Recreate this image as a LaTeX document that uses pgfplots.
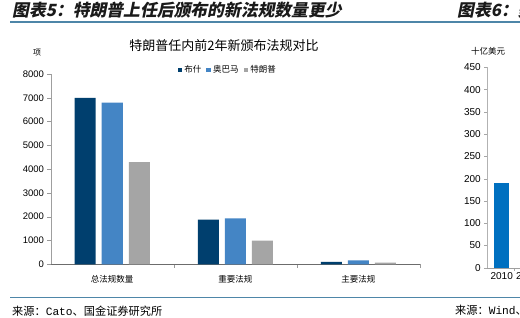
\documentclass[border=0pt]{standalone}
\usepackage{pgfplots}
\pgfplotsset{compat=1.18}
\usepackage{fontspec}
\setmainfont{Liberation Sans}
\newfontfamily\cjk{Noto Sans CJK SC}
\newfontfamily\cjkhead{Noto Sans CJK SC}[FakeSlant=0.2]
\newfontfamily\mono{Liberation Mono}
\definecolor{bush}{HTML}{003F6E}
\definecolor{obama}{HTML}{4485C5}
\definecolor{trump}{HTML}{A5A5A5}
\definecolor{hline}{HTML}{4E86A8}
\definecolor{rbar}{HTML}{0070C0}
\definecolor{headtxt}{HTML}{1A1A1A}
\pgfplotsset{sqlegend/.style={legend image code/.code={\fill[##1,draw=none] (0pt,-2.4pt) rectangle (4.8pt,2.4pt);}}}
\begin{document}
\begin{tikzpicture}
\useasboundingbox (0pt,0pt) rectangle (520pt,317pt);
\clip (0pt,0pt) rectangle (520pt,317pt);
\fill[white] (0pt,0pt) rectangle (520pt,317pt);
% headers
\node[anchor=west,inner sep=0pt,text=headtxt] at (12pt,307pt) {\cjkhead\bfseries\fontsize{16.8}{17}\selectfont 图表5：特朗普上任后颁布的新法规数量更少};
\node[anchor=west,inner sep=0pt,text=headtxt] at (457pt,307pt) {\cjkhead\bfseries\fontsize{16.8}{17}\selectfont 图表6：美};
\draw[hline,line width=2.4pt] (10pt,295.3pt) -- (520pt,295.3pt);
\draw[hline,line width=1pt] (10pt,19.3pt) -- (520pt,19.3pt);
\node[anchor=west,inner sep=0pt] at (12pt,6pt) {\cjk\fontsize{11.2}{12}\selectfont 来源：{\mono Cato}、国金证券研究所};
\node[anchor=west,inner sep=0pt] at (455pt,6.5pt) {\cjk\fontsize{11.2}{12}\selectfont 来源：{\mono Wind}、};
% left chart
\node[inner sep=0pt] at (224pt,271pt) {\cjk\fontsize{13}{14}\selectfont 特朗普任内前2年新颁布法规对比};
\node[inner sep=0pt] at (37pt,264pt) {\cjk\fontsize{8}{9}\selectfont 项};
\begin{axis}[
  at={(50.7pt,52.7pt)}, anchor=south west, scale only axis,
  width=369.3pt, height=190.3pt,
  xmin=-0.5, xmax=2.5, ymin=0, ymax=8000,
  ybar=6pt, bar width=21pt,
  axis x line*=bottom, axis y line*=left,
  x axis line style={draw=gray!85!black,-},
  y axis line style={draw=gray!75,-},
  tick align=outside, major tick length=3.5pt,
  tick style={draw=gray!80},
  ytick={0,1000,...,8000},
  yticklabel style={font=\fontsize{9.5}{10}\selectfont, inner sep=1pt, xshift=-2pt},
  /pgf/number format/assume math mode=true,
  scaled y ticks=false,
  yticklabel={\pgfmathprintnumber[fixed,1000 sep={}]{\tick}},
  xtick={0.5,1.5,2.5}, xticklabels={},
  extra x ticks={0,1,2},
  extra x tick labels={总法规数量,重要法规,主要法规},
  extra x tick style={major tick length=0pt, xticklabel style={font=\cjk\fontsize{8.5}{9}\selectfont, yshift=-8pt}},
  legend columns=3,
  legend style={at={(0.343,1.021)}, anchor=west, draw=none, fill=none, inner sep=0pt,
    font=\cjk\fontsize{8.5}{9}\selectfont, /tikz/every even column/.append style={column sep=3pt}},
  legend cell align=left,
]
\addplot[fill=bush, draw=none, sqlegend] coordinates {(0,7000) (1,1880) (2,100)};
\addplot[fill=obama, draw=none, sqlegend] coordinates {(0,6800) (1,1930) (2,170)};
\addplot[fill=trump, draw=none, sqlegend] coordinates {(0,4300) (1,1000) (2,70)};
\legend{布什,奥巴马,特朗普}
\end{axis}
% right chart
\node[inner sep=0pt] at (488pt,266pt) {\cjk\fontsize{8.5}{9}\selectfont 十亿美元};
\begin{axis}[
  at={(487pt,49.3pt)}, anchor=south west, scale only axis,
  width=60pt, height=200.4pt,
  xmin=-0.59, xmax=1.81, ymin=0, ymax=450,
  ybar, bar width=15pt,
  axis x line*=bottom, axis y line*=left,
  x axis line style={draw=gray!75,-},
  y axis line style={draw=gray!60,-},
  tick align=outside, major tick length=3pt,
  tick style={draw=gray!70},
  ytick={0,50,...,450},
  yticklabel style={font=\fontsize{10}{11}\selectfont, inner sep=1pt, xshift=-2pt},
  /pgf/number format/assume math mode=true,
  xtick={0.5,1.5}, xticklabels={},
  extra x ticks={0,1},
  extra x tick labels={2010,2011},
  extra x tick style={major tick length=0pt, xticklabel style={font=\fontsize{10}{11}\selectfont, yshift=-1pt}},
]
\addplot[fill=rbar, draw=none] coordinates {(0,191)};
\end{axis}
\end{tikzpicture}
\end{document}
